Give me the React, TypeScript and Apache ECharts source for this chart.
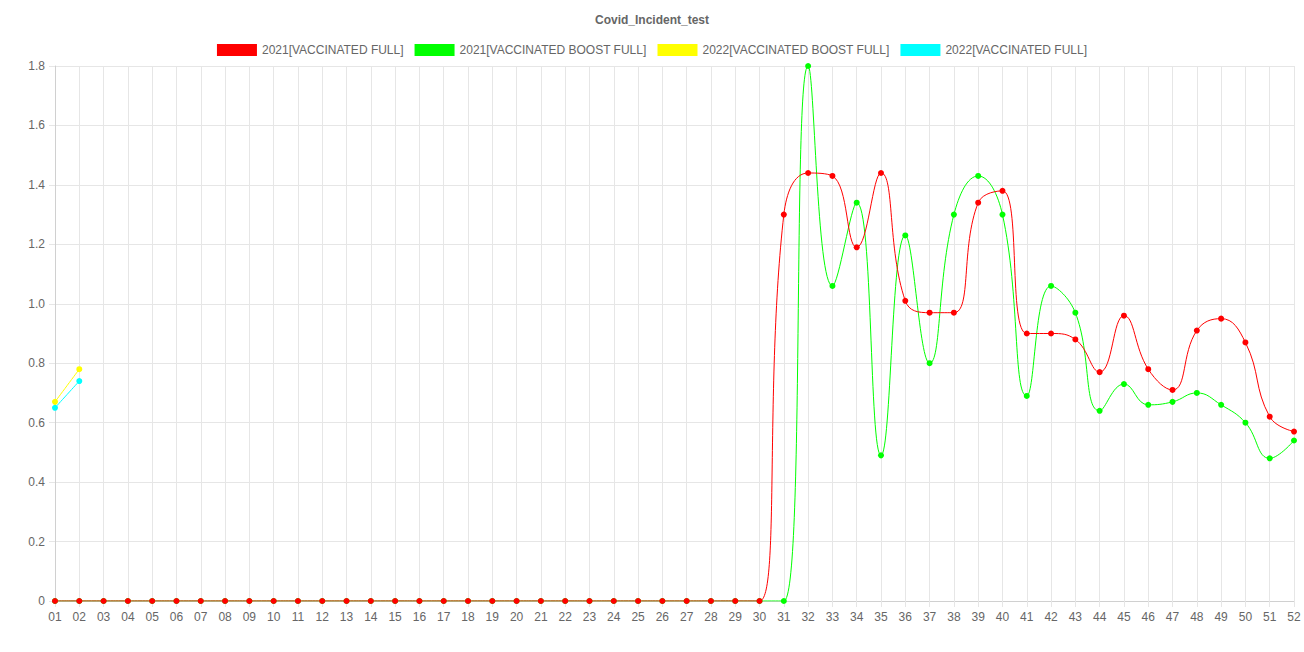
import React, { useEffect, useRef } from "react";
import * as echarts from "echarts";

const weeks = Array.from({ length: 52 }, (_, i) => String(i + 1).padStart(2, "0"));

const zeros30 = [0,0,0,0,0,0,0,0,0,0,0,0,0,0,0,0,0,0,0,0,0,0,0,0,0,0,0,0,0,0];

const red2021Full = [
  ...zeros30,
  1.30, 1.44, 1.43, 1.19, 1.44, 1.01, 0.97, 0.97, 1.34, 1.38, 0.90,
  0.90, 0.88, 0.77, 0.96, 0.78, 0.71, 0.91, 0.95, 0.87, 0.62, 0.57,
];

const green2021Boost = [
  ...zeros30,
  0, 1.8, 1.06, 1.34, 0.49, 1.23, 0.80, 1.30, 1.43, 1.30, 0.69,
  1.06, 0.97, 0.64, 0.73, 0.66, 0.67, 0.70, 0.66, 0.60, 0.48, 0.54,
];

const yellow2022Boost = [0.67, 0.78];
const cyan2022Full = [0.65, 0.74];

const names = [
  "2021[VACCINATED FULL]",
  "2021[VACCINATED BOOST FULL]",
  "2022[VACCINATED BOOST FULL]",
  "2022[VACCINATED FULL]",
];
const colors = ["#ff0000", "#00ff00", "#ffff00", "#00ffff"];

export default function App() {
  const ref = useRef<HTMLDivElement>(null);
  useEffect(() => {
    if (!ref.current) return;
    const chart = echarts.init(ref.current, null, { renderer: "svg" });
    const mk = (i: number, data: number[], z: number) => ({
      name: names[i],
      type: "line",
      data,
      smooth: 0.45,
      symbol: "circle",
      symbolSize: 6,
      z,
      itemStyle: { color: colors[i] },
      lineStyle: { color: colors[i], width: 1 },
    });
    chart.setOption({
      animation: false,
      title: {
        text: "Covid_Incident_test",
        left: "center",
        top: 9,
        textStyle: { fontSize: 12, fontWeight: "bold", color: "#666", fontFamily: "Liberation Sans, Arial, sans-serif" },
      },
      legend: {
        data: names,
        top: 44,
        left: "center",
        itemWidth: 40,
        itemHeight: 12,
        itemGap: 11,
        icon: "rect",
        padding: [0, 5],
        textStyle: { fontSize: 12, color: "#666", fontFamily: "Liberation Sans, Arial, sans-serif" },
      },
      grid: { left: 55, right: 10, top: 66, bottom: 51, containLabel: false },
      xAxis: {
        type: "category",
        data: weeks,
        boundaryGap: false,
        axisLine: { lineStyle: { color: "#d0d0d0" } },
        axisTick: { show: true, length: 6, lineStyle: { color: "#e6e6e6" }, alignWithLabel: true },
        axisLabel: { color: "#666", fontSize: 12, margin: 10, interval: 0, fontFamily: "Liberation Sans, Arial, sans-serif" },
        splitLine: { show: true, lineStyle: { color: "#e6e6e6" } },
      },
      yAxis: {
        type: "value",
        min: 0,
        max: 1.8,
        interval: 0.2,
        axisLine: { show: true, lineStyle: { color: "#d0d0d0" } },
        axisTick: { show: true, length: 6, lineStyle: { color: "#e6e6e6" } },
        axisLabel: {
          color: "#666",
          fontSize: 12,
          margin: 10,
          fontFamily: "Liberation Sans, Arial, sans-serif",
          formatter: (v: number) => (v === 0 ? "0" : v.toFixed(1)),
        },
        splitLine: { show: true, lineStyle: { color: "#e6e6e6" } },
      },
      series: [
        mk(0, red2021Full, 6),
        mk(1, green2021Boost, 5),
        mk(2, yellow2022Boost, 4),
        mk(3, cyan2022Full, 3),
      ],
    });
    return () => chart.dispose();
  }, []);
  return (
    <div
      ref={ref}
      style={{ position: "fixed", left: 0, top: 0, width: 1304, height: 652, background: "#fff" }}
    />
  );
}
